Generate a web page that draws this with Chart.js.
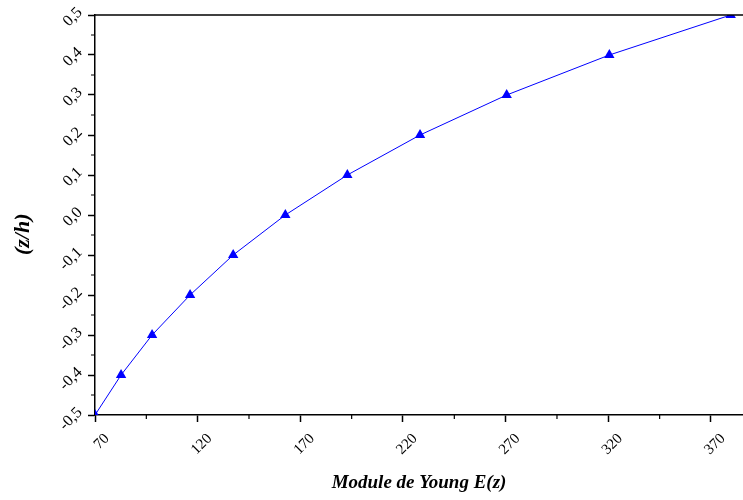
<!DOCTYPE html>
<html>
<head>
<meta charset="utf-8">
<script src="https://cdn.jsdelivr.net/npm/chart.js@4/dist/chart.umd.min.js"></script>
<style>
html,body{margin:0;padding:0;background:#fff;}
#wrap{width:743px;height:500px;position:relative;}
</style>
</head>
<body>
<div id="wrap"><canvas id="c" width="743" height="500"></canvas></div>
<script>
// Data
const youngModulus = [70, 82.7, 97.8, 116.3, 137.3, 162.7, 192.9, 228.3, 270.5, 320.5, 379.6];
const zOverH = [-0.5, -0.4, -0.3, -0.2, -0.1, 0.0, 0.1, 0.2, 0.3, 0.4, 0.5];
const xTicks = [70, 120, 170, 220, 270, 320, 370];
const xMinorTicks = [95, 145, 195, 245, 295, 345];
const yTicks = [-0.5, -0.4, -0.3, -0.2, -0.1, 0.0, 0.1, 0.2, 0.3, 0.4, 0.5];
const yTickLabels = ['-0,5', '-0,4', '-0,3', '-0,2', '-0,1', '0,0', '0,1', '0,2', '0,3', '0,4', '0,5'];
const yMinorTicks = [-0.45, -0.35, -0.25, -0.15, -0.05, 0.05, 0.15, 0.25, 0.35, 0.45];
const xTitle = 'Module de Young E(z)';
const yTitle = '(z/h)';

const extras = {
  id: 'extras',
  afterDraw(chart) {
    const ctx = chart.ctx, a = chart.chartArea;
    const xs = chart.scales.x, ys = chart.scales.y;
    ctx.save();
    ctx.strokeStyle = '#000';
    ctx.lineWidth = 1.5;
    ctx.beginPath();
    ctx.moveTo(a.left, a.top);
    ctx.lineTo(chart.width, a.top);
    ctx.stroke();
    ctx.lineWidth = 1.2;
    ctx.beginPath();
    xMinorTicks.forEach(v => {
      const px = xs.getPixelForValue(v);
      ctx.moveTo(px, a.bottom);
      ctx.lineTo(px, a.bottom + 4);
    });
    yMinorTicks.forEach(v => {
      const py = ys.getPixelForValue(v);
      ctx.moveTo(a.left, py);
      ctx.lineTo(a.left - 4, py);
    });
    ctx.stroke();
    ctx.restore();
  }
};

new Chart(document.getElementById('c'), {
  type: 'line',
  data: {
    datasets: [{
      data: youngModulus.map((x, i) => ({x: x, y: zOverH[i]})),
      borderColor: '#0000ff',
      backgroundColor: '#0000ff',
      borderWidth: 1,
      pointStyle: 'triangle',
      pointRadius: 6,
      pointBorderWidth: 0,
      pointBackgroundColor: '#0000ff',
      tension: 0,
      clip: 0,
      fill: false
    }]
  },
  plugins: [extras],
  options: {
    responsive: false,
    animation: false,
    devicePixelRatio: 1,
    layout: {autoPadding: false, padding: {top: 15, right: 0, left: 0, bottom: 0}},
    plugins: {legend: {display: false}, tooltip: {enabled: false}},
    scales: {
      x: {
        type: 'linear',
        min: 70,
        max: 385.6,
        afterBuildTicks: s => { s.ticks = xTicks.map(v => ({value: v})); },
        afterFit: s => { s.height = 85; s.paddingLeft = 0; s.paddingRight = 0; },
        grid: {display: true, drawOnChartArea: false, drawTicks: true, tickLength: 7, tickWidth: 1.5, color: '#000'},
        border: {display: true, color: '#000', width: 1.5},
        ticks: {
          minRotation: 45, maxRotation: 45,
          color: '#000', padding: 8, labelOffset: 12,
          font: {family: 'Liberation Serif', size: 15},
          callback: v => String(v)
        },
        title: {
          display: true, text: xTitle, color: '#000',
          font: {family: 'Liberation Serif', size: 19, weight: 'bold', style: 'italic'},
          padding: {top: 0, bottom: 6}
        }
      },
      y: {
        type: 'linear',
        min: -0.5,
        max: 0.5,
        afterBuildTicks: s => { s.ticks = yTicks.map(v => ({value: v})); },
        afterFit: s => { s.width = 95; s.paddingTop = 0; s.paddingBottom = 0; },
        grid: {display: true, drawOnChartArea: false, drawTicks: true, tickLength: 7, tickWidth: 1.5, color: '#000'},
        border: {display: true, color: '#000', width: 1.5},
        ticks: {
          minRotation: 45, maxRotation: 45,
          color: '#000', padding: 8, labelOffset: -5,
          font: {family: 'Liberation Serif', size: 16},
          callback: (v) => yTickLabels[yTicks.indexOf(Math.round(v * 10) / 10)]
        },
        title: {
          display: true, text: yTitle + '       ', color: '#000',
          font: {family: 'Liberation Serif', size: 22, weight: 'bold', style: 'italic'},
          padding: {top: 10, bottom: 0}
        }
      }
    }
  }
});
</script>
</body>
</html>
